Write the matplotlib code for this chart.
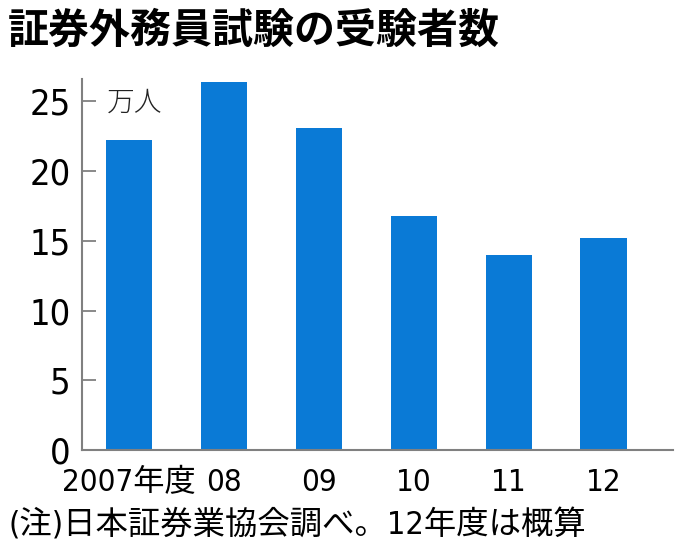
import matplotlib
matplotlib.use("Agg")
import matplotlib.pyplot as plt
from matplotlib import font_manager

jp = 'Noto Sans CJK JP'
cond_name, cond_stretch = 'Liberation Sans', 'normal'
for f in font_manager.fontManager.ttflist:
    if ('Narrow' in f.name or 'Condensed' in f.name or 'Condensed' in f.fname
            or f.stretch in ('condensed', 'semi-condensed', 'extra-condensed', 575, 625, 700)) \
            and 'Bold' not in f.fname and 'Oblique' not in f.fname and 'Italic' not in f.fname:
        cond_name, cond_stretch = f.name, f.stretch
        break

categories = ['2007年度', '08', '09', '10', '11', '12']
values = [22.2, 26.4, 23.1, 16.8, 14.0, 15.2]
yticks = [0, 5, 10, 15, 20, 25]

title = '証券外務員試験の受験者数'
unit = '万人'
note = '(注)日本証券業協会調べ。12年度は概算'

bar_color = '#0a7ad6'
spine_color = '#808080'

plt.rcParams['font.family'] = [cond_name, jp, 'DejaVu Sans']
plt.rcParams['font.stretch'] = cond_stretch

fig = plt.figure(figsize=(6.8, 5.53), dpi=100)
ax = fig.add_axes([0.1201, 0.1863, 0.8696, 0.6707])
x = list(range(len(categories)))
ax.bar(x, values, width=0.49, color=bar_color, zorder=2)
ax.set_xlim(-0.5, 5.73)
ax.set_ylim(0, 26.6)
ax.set_yticks(yticks)
ax.set_xticks(x)
ax.set_yticklabels([str(v) for v in yticks], fontsize=26)
ax.set_xticklabels(categories, fontsize=22.5)
for s in ['top', 'right']:
    ax.spines[s].set_visible(False)
for s in ['left', 'bottom']:
    ax.spines[s].set_color(spine_color)
    ax.spines[s].set_linewidth(1.5)
ax.tick_params(axis='y', direction='in', length=10, width=1.3, color=spine_color, pad=8)
ax.tick_params(axis='x', length=0, pad=13)

ax.text(0.042, 0.935, unit, transform=ax.transAxes, fontsize=20, family=[jp],
        fontweight='light', ha='left', va='center', color='#222222')

fig.text(0.012, 0.945, title, fontsize=29.5, fontweight='bold', family=[jp],
         ha='left', va='center')
fig.text(0.012, 0.05, note, fontsize=23.3, ha='left', va='center')

fig.savefig('out.png', dpi=100)
